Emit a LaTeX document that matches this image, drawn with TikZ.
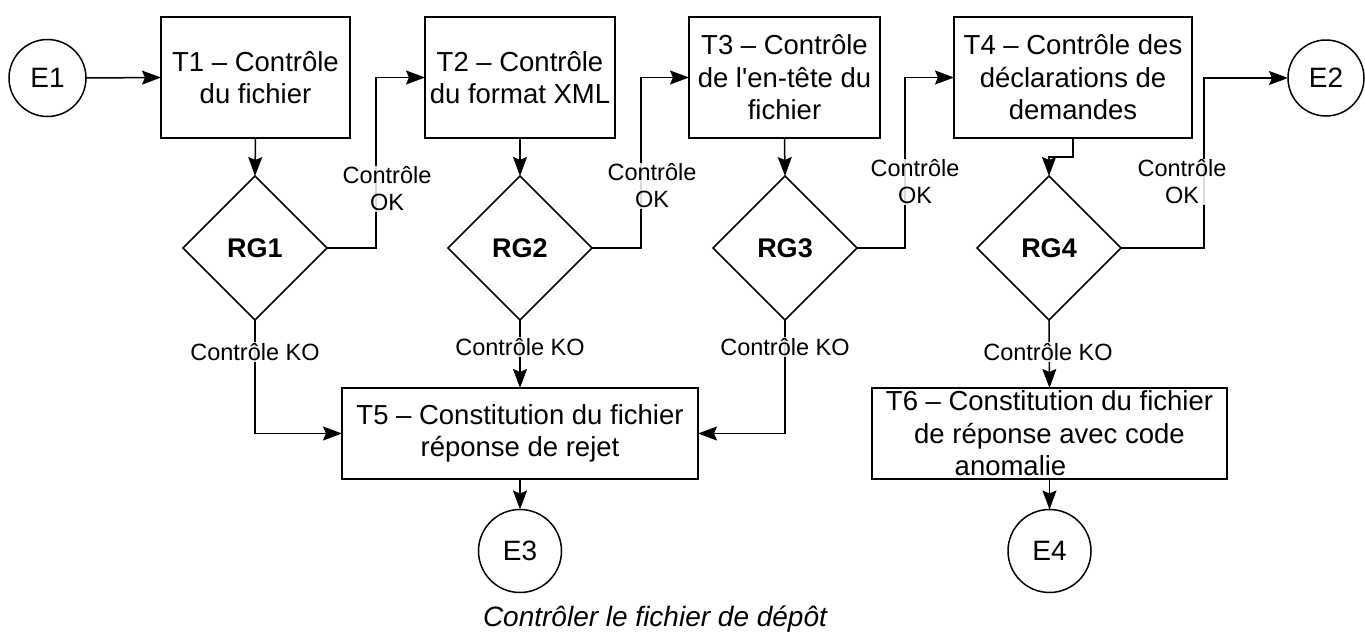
\documentclass[tikz,border=0pt]{standalone}
\usepackage{fontspec}
\setmainfont{Liberation Sans}[Ligatures=TeXOff]
\usetikzlibrary{shapes.geometric,arrows.meta}
\begin{document}
\begin{tikzpicture}[x=1pt,y=-1pt,
  every node/.style={inner sep=0pt, outer sep=0pt},
  line width=1.5pt,
  task/.style={draw, rectangle, align=center, font=\fontsize{27.5}{32.5}\selectfont},
  rg/.style={draw, diamond, aspect=1, minimum width=144pt, minimum height=144pt, font=\fontsize{27}{32}\selectfont\bfseries},
  ev/.style={draw, circle, font=\fontsize{28}{32}\selectfont},
  lbl/.style={fill=white, fill opacity=0.85, text opacity=1, align=center, inner sep=1pt, font=\fontsize{23.5}{27}\selectfont},
  arr/.style={-{Stealth[length=19pt,width=14pt,inset=3pt]}}
]
\useasboundingbox (0,0) rectangle (1365,632);

% events
\node[ev, minimum size=77pt] (E1) at (47.5,78) {E1};
\node[ev, minimum size=76pt] (E2) at (1326,78) {E2};
\node[ev, minimum size=83pt] (E3) at (520,551) {E3};
\node[ev, minimum size=83pt] (E4) at (1049.5,551) {E4};

% tasks
\node[task, minimum width=189pt, minimum height=121pt] (T1) at (255.5,77.5) {T1 – Contrôle\\du fichier};
\node[task, minimum width=190pt, minimum height=121pt] (T2) at (520,77.5) {T2 – Contrôle\\du format XML};
\node[task, minimum width=191pt, minimum height=121pt] (T3) at (784.5,77.5) {T3 – Contrôle\\de l'en-tête du\\fichier};
\node[task, minimum width=238pt, minimum height=121pt] (T4) at (1073,77.5) {T4 – Contrôle des\\déclarations de\\demandes};
\node[task, minimum width=356pt, minimum height=91pt] (T5) at (520,433.5) {T5 – Constitution du fichier\\réponse de rejet};
\node[task, minimum width=355pt, minimum height=91pt] (T6) at (1049.5,433.5) {T6 – Constitution du fichier\\de réponse avec code\\anomalie\hspace*{78pt}};

% decisions
\node[rg] (RG1) at (255,248) {RG1};
\node[rg] (RG2) at (520,248) {RG2};
\node[rg] (RG3) at (785,248) {RG3};
\node[rg] (RG4) at (1049,248) {RG4};

% connectors
\draw[arr] (E1.east) -- (T1.west);
\draw[arr] (T1.south) -- (RG1.north);
\draw[arr] (T2.south) -- (RG2.north);
\draw[arr] (T3.south) -- (RG3.north);
\draw[arr] (T4.south) -- ++(0,19) -| (RG4.north);

\draw[arr] (RG1.east) -- ++(49,0) |- (T2.west);
\draw[arr] (RG2.east) -- ++(49,0) |- (T3.west);
\draw[arr] (RG3.east) -- ++(48,0) |- (T4.west);
\draw[arr] (RG4.east) -- ++(83,0) |- (E2.west);

\draw[arr] (RG1.south) |- (T5.west);
\draw[arr] (RG2.south) -- (T5.north);
\draw[arr] (RG3.south) |- (T5.east);
\draw[arr] (RG4.south) -- (T6.north);
\draw[arr] (T5.south) -- (E3.north);
\draw[arr] (T6.south) -- (E4.north);

% labels
\node[lbl] (L1) at (387,189) {Contrôle\\OK};
\node[lbl] (L2) at (652,186) {Contrôle\\OK};
\node[lbl] (L3) at (915,182) {Contrôle\\OK};
\node[lbl] (L4) at (1182,182) {Contrôle\\OK};
\node[lbl] (K1) at (255,352) {Contrôle KO};
\node[lbl] (K2) at (520,347) {Contrôle KO};
\node[lbl] (K3) at (785,347) {Contrôle KO};
\node[lbl] (K4) at (1048,352) {Contrôle KO};

% caption
\node[font=\fontsize{28}{32}\selectfont\itshape] (cap) at (655,619) {Contrôler le fichier de dépôt};
\end{tikzpicture}
\end{document}
